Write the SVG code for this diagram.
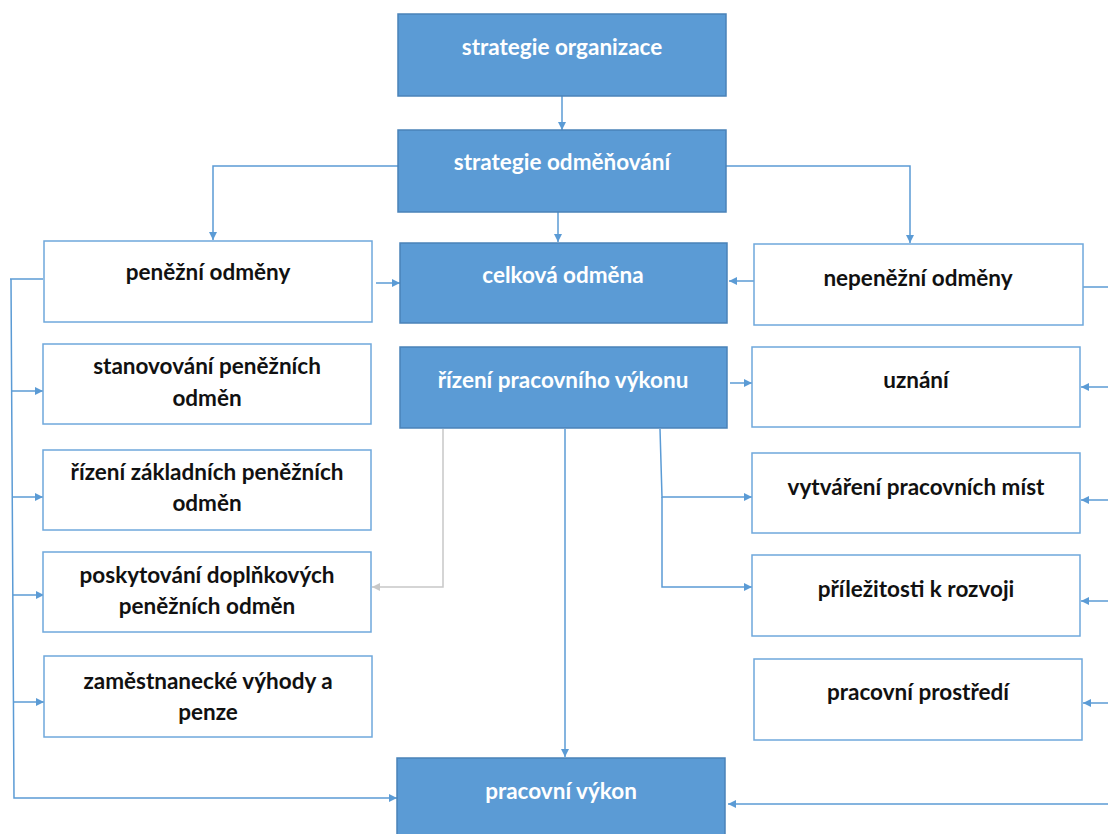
<svg xmlns="http://www.w3.org/2000/svg" width="1108" height="834" viewBox="0 0 1108 834">
<defs>
<marker id="ab" viewBox="0 0 10 10" refX="10" refY="5" markerWidth="8" markerHeight="8" markerUnits="userSpaceOnUse" orient="auto"><path d="M0,0 L10,5 L0,10 z" fill="#5B9BD5"/></marker>
<marker id="ag" viewBox="0 0 10 10" refX="10" refY="5" markerWidth="8" markerHeight="8" markerUnits="userSpaceOnUse" orient="auto"><path d="M0,0 L10,5 L0,10 z" fill="#C8C8C8"/></marker>
</defs>
<style>
.dk{fill:#5B9BD5;stroke:#4A82B8;stroke-width:1.5}
.wb{fill:#FFFFFF;stroke:#6FA8DC;stroke-width:1.5}
.tw{font-family:Lato,"Open Sans","Liberation Sans",sans-serif;font-weight:bold;font-size:22.5px;fill:#FFFFFF;text-anchor:middle}
.tb{font-family:Lato,"Open Sans","Liberation Sans",sans-serif;font-weight:bold;font-size:22.5px;fill:#111111;text-anchor:middle}
.c{fill:none;stroke:#5B9BD5;stroke-width:1.5;marker-end:url(#ab)}
.l{fill:none;stroke:#5B9BD5;stroke-width:1.5}
.g{fill:none;stroke:#C8C8C8;stroke-width:1.5;marker-end:url(#ag)}
</style>
<rect width="1108" height="834" fill="#FFFFFF"/>
<g id="connectors">
<path class="c" d="M562,96 V130"/>
<path class="c" d="M398,166 H213 V240"/>
<path class="c" d="M558,212 V242"/>
<path class="c" d="M726,166 H910 V243"/>
<path class="c" d="M376,283 H400"/>
<path class="c" d="M754,281 H729"/>
<path class="c" d="M730,383 H752"/>
<path class="l" d="M43,279 H10"/>
<path class="c" d="M11,279 L14,798 H397"/>
<path class="c" d="M12,391 H43"/>
<path class="c" d="M12,497 H43"/>
<path class="c" d="M13,595 H44"/>
<path class="c" d="M14,702 H44"/>
<path class="l" d="M1083,287 H1108"/>
<path class="c" d="M1108,387 H1081"/>
<path class="c" d="M1108,500 H1081"/>
<path class="c" d="M1108,601 H1081"/>
<path class="c" d="M1108,703 H1083"/>
<path class="c" d="M1108,804 H728"/>
<path class="g" d="M443,429 V587 H372"/>
<path class="c" d="M565,429 V757"/>
<path class="c" d="M660,429 L662,497 H752"/>
<path class="c" d="M662,497 V587 H752"/>
</g>
<g id="n1"><rect class="dk" x="398" y="14" width="328" height="82"/><text class="tw" x="562" y="55">strategie organizace</text></g>
<g id="n2"><rect class="dk" x="398" y="130" width="328" height="82"/><text class="tw" x="562" y="170">strategie odměňování</text></g>
<g id="n3"><rect class="wb" x="44" y="241" width="328" height="81"/><text class="tb" x="208" y="280">peněžní odměny</text></g>
<g id="n4"><rect class="dk" x="400" y="243" width="327" height="80"/><text class="tw" x="563" y="283">celková odměna</text></g>
<g id="n5"><rect class="wb" x="754" y="244" width="329" height="81"/><text class="tb" x="918" y="286">nepeněžní odměny</text></g>
<g id="n6"><rect class="wb" x="43" y="344" width="328" height="80"/><text class="tb" x="207" y="374">stanovování peněžních</text><text class="tb" x="207" y="406">odměn</text></g>
<g id="n7"><rect class="dk" x="400" y="347" width="327" height="81"/><text class="tw" x="563" y="388">řízení pracovního výkonu</text></g>
<g id="n8"><rect class="wb" x="752" y="347" width="328" height="80"/><text class="tb" x="916" y="388">uznání</text></g>
<g id="n9"><rect class="wb" x="43" y="450" width="328" height="80"/><text class="tb" x="207" y="480">řízení základních peněžních</text><text class="tb" x="207" y="511">odměn</text></g>
<g id="n10"><rect class="wb" x="752" y="453" width="328" height="80"/><text class="tb" x="916" y="495">vytváření pracovních míst</text></g>
<g id="n11"><rect class="wb" x="43" y="552" width="328" height="80"/><text class="tb" x="207" y="583">poskytování doplňkových</text><text class="tb" x="207" y="614">peněžních odměn</text></g>
<g id="n12"><rect class="wb" x="752" y="555" width="328" height="81"/><text class="tb" x="916" y="597">příležitosti k rozvoji</text></g>
<g id="n13"><rect class="wb" x="44" y="656" width="328" height="81"/><text class="tb" x="208" y="689">zaměstnanecké výhody a</text><text class="tb" x="208" y="720">penze</text></g>
<g id="n14"><rect class="wb" x="754" y="659" width="328" height="81"/><text class="tb" x="918" y="700">pracovní prostředí</text></g>
<g id="n15"><rect class="dk" x="397" y="758" width="328" height="84"/><text class="tw" x="561" y="799">pracovní výkon</text></g>
</svg>
